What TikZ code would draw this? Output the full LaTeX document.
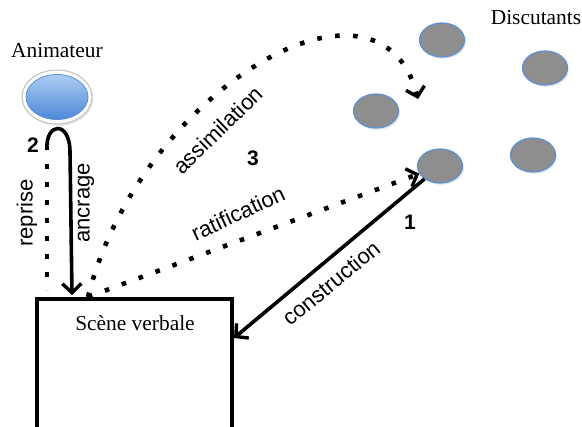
\documentclass[tikz,border=0pt]{standalone}
\usepackage{fontspec}
\setmainfont{Liberation Serif}
\setsansfont{Liberation Sans}
\usetikzlibrary{shapes.geometric,arrows.meta,shadows}

\definecolor{discgrey}{HTML}{8E8E8E}
\definecolor{discline}{HTML}{5B8FD6}
\definecolor{animtop}{HTML}{ADCDF3}
\definecolor{animbottom}{HTML}{4C88D8}
\def\DISCCOLOR{discgrey}
\def\RIMCOLOR{discline}

\tikzset{
	disc/.style={ellipse, draw=\RIMCOLOR, line width=0.6pt, fill=\DISCCOLOR, minimum width=22.5pt, minimum height=17pt, inner sep=0pt, drop shadow={opacity=0.2, shadow xshift=0.7pt, shadow yshift=-0.9pt}},
	serifname/.style={font=\fontsize{10.7}{12}\selectfont},
	sanslabel/.style={font=\sffamily\fontsize{11}{13}\selectfont, inner sep=0pt},
	stepnum/.style={font=\sffamily\bfseries\fontsize{10.5}{12}\selectfont, inner sep=0pt},
	barb/.tip={Straight Barb[length=4.5pt, width=9.5pt, line width=1.7pt]},
	strongarrow/.style={line width=1.8pt, -barb},
	dotline/.style={line width=2.3pt, dash pattern=on 2.3pt off 6.7pt}
}

\begin{document}
\begin{tikzpicture}[x=0.5pt, y=-0.5pt]

	\clip (0,0) rectangle (582,427);

	% animateur
	\node[serifname] (animtxt) at (57,51) {Animateur};
	\node[ellipse, draw=gray!50, line width=0.5pt, fill=white, minimum width=35pt, minimum height=27pt, inner sep=0pt, drop shadow={opacity=0.2, shadow xshift=0.7pt, shadow yshift=-0.9pt}] (anim) at (57,97) {};
	\node[ellipse, draw=\RIMCOLOR, line width=0.4pt, top color=animtop, bottom color=animbottom, minimum width=31pt, minimum height=22.5pt, inner sep=0pt] (animcore) at (anim) {};

	% discutants
	\node[serifname] (disctxt) at (536,18) {Discutants};
	\node[disc] (d1) at (442,40) {};
	\node[disc] (d2) at (545,68) {};
	\node[disc] (d3) at (376,111) {};
	\node[disc] (d4) at (440,166) {};
	\node[disc] (d5) at (533,155) {};

	% scene verbale
	\node[draw, line width=2pt, minimum width=97.5pt, minimum height=70pt, inner sep=0pt] (scene) at (134.5,369) {};
	\node[serifname] (scenetxt) at (135,323) {Scène verbale};

	\coordinate (scenetop) at (88,297);
	\coordinate (ancrstart) at (47,150);
	\coordinate (ancrend) at (72,295);
	\coordinate (reptop) at (47,164);
	\coordinate (repbot) at (47,290);
	\coordinate (assimend) at (418,99);
	\coordinate (constrend) at (234,338);

	% connecteurs
	\draw[strongarrow] (ancrstart) .. controls (45,122) and (70,120) .. (70,152) -- (ancrend);
	\draw[dotline] (reptop) -- (repbot);
	\draw[dotline, -barb] (scenetop) .. controls (140,90) and (380,-50) .. (assimend);
	\draw[dotline, -barb] (scenetop) -- (d4);
	\draw[strongarrow] (d4) -- (constrend);

	% labels
	\node[sanslabel, rotate=90] (reprise) at (27,213) {reprise};
	\node[sanslabel, rotate=90] (ancrage) at (86,203) {ancrage};
	\node[sanslabel, rotate=44] (assim) at (218,130) {assimilation};
	\node[sanslabel, rotate=25] (ratif) at (238,213) {ratification};
	\node[sanslabel, rotate=39.5] (constr) at (331,283) {construction};
	\node[stepnum] (n1) at (410,222) {1};
	\node[stepnum] (n2) at (33,145) {2};
	\node[stepnum] (n3) at (253,158) {3};

\end{tikzpicture}
\end{document}
